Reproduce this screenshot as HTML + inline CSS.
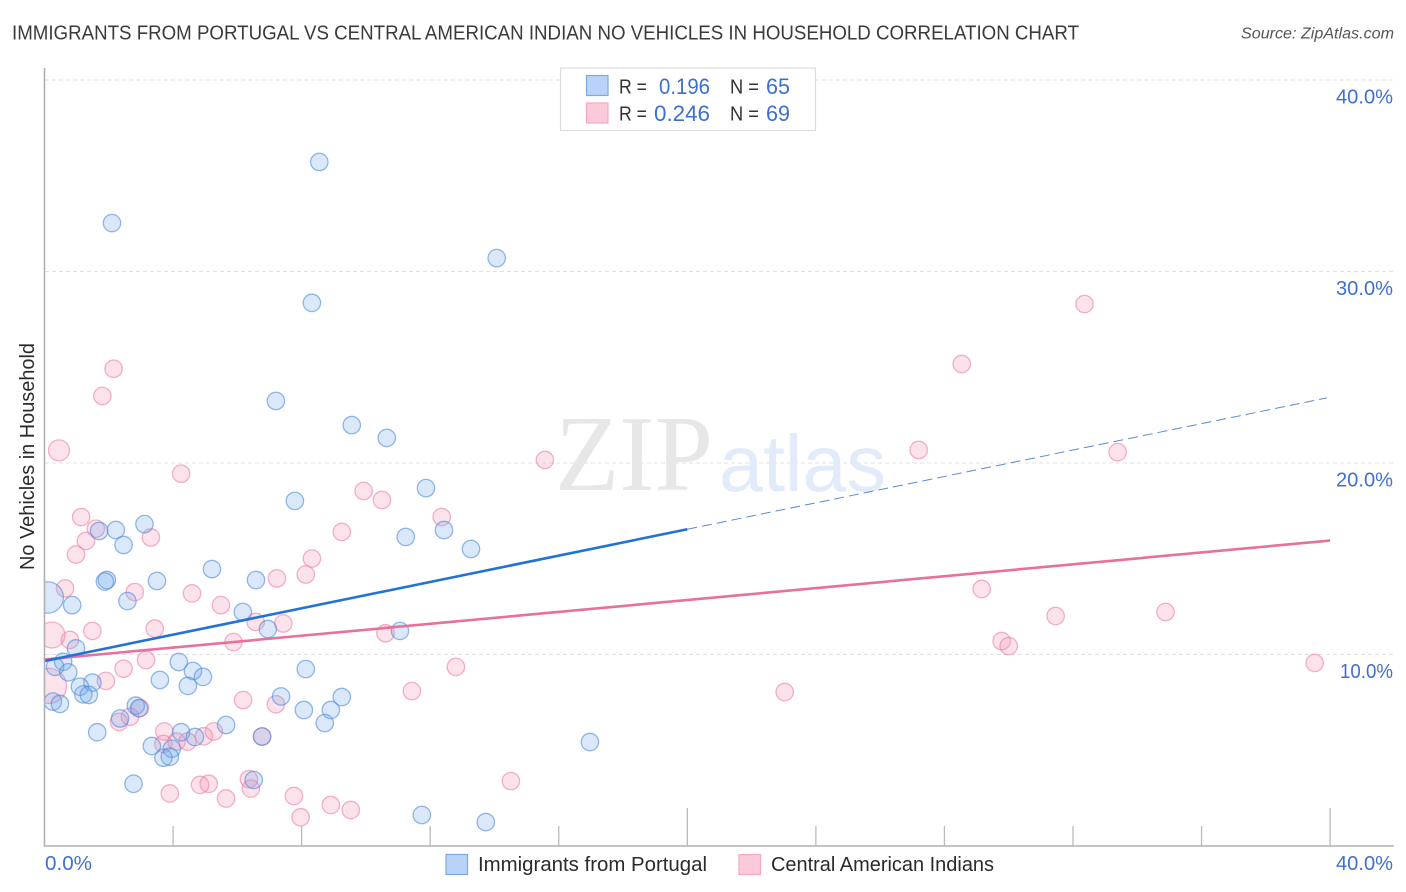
<!DOCTYPE html>
<html lang="en">
<head>
<meta charset="utf-8">
<title>Immigrants from Portugal vs Central American Indian No Vehicles in Household Correlation Chart</title>
<style>
html,body{margin:0;padding:0;background:#fff;width:1406px;height:892px;overflow:hidden}
svg{display:block}
text{font-family:"Liberation Sans",sans-serif}
</style>
</head>
<body>
<svg id="chart" width="1406" height="892" viewBox="0 0 1406 892" xmlns="http://www.w3.org/2000/svg">
  <defs>
    <clipPath id="plot-clip"><rect x="45" y="60" width="1349" height="786"/></clipPath>
  </defs>
  <rect x="0" y="0" width="1406" height="892" fill="#fff"/>
  <text x="12" y="39.5" font-size="20" fill="#3a3a3a" textLength="1067" lengthAdjust="spacingAndGlyphs">IMMIGRANTS FROM PORTUGAL VS CENTRAL AMERICAN INDIAN NO VEHICLES IN HOUSEHOLD CORRELATION CHART</text>
  <text x="1241" y="38.5" font-size="15.5" font-style="italic" fill="#555" textLength="153" lengthAdjust="spacingAndGlyphs">Source: ZipAtlas.com</text>
  <g id="grid"></g>
  <text x="555" y="490" font-size="108" fill="#e7e7e7" style="font-family:'Liberation Serif',serif" textLength="158" lengthAdjust="spacingAndGlyphs">ZIP</text>
  <text x="719" y="491" font-size="80" fill="#e2ebf9" textLength="167" lengthAdjust="spacingAndGlyphs">atlas</text>
  <g id="points-pink" clip-path="url(#plot-clip)"></g>
  <g id="points-blue" clip-path="url(#plot-clip)"></g>
  <g id="trends" clip-path="url(#plot-clip)"></g>
  <g id="axes"></g>
  <text transform="translate(34,456.5) rotate(-90)" text-anchor="middle" font-size="20" fill="#2a2a2a" textLength="227" lengthAdjust="spacingAndGlyphs">No Vehicles in Household</text>
  <g>
    <rect x="560.5" y="68" width="255" height="62.5" fill="#fff" stroke="#ddd" stroke-width="1.2"/>
    <rect x="586.5" y="75.5" width="21.5" height="20" fill="#b8d3f7" stroke="#7fa8de" stroke-width="1.2"/>
    <rect x="586.5" y="103" width="21.5" height="20" fill="#fcc9da" stroke="#f5a9c1" stroke-width="1.2"/>
    <text x="619" y="93.5" font-size="20" fill="#333" textLength="28" lengthAdjust="spacingAndGlyphs">R =</text>
    <text x="659" y="94" font-size="22" fill="#3c70d0" textLength="51" lengthAdjust="spacingAndGlyphs">0.196</text>
    <text x="730" y="93.5" font-size="20" fill="#333" textLength="29" lengthAdjust="spacingAndGlyphs">N =</text>
    <text x="766" y="94" font-size="22" fill="#3c70d0" textLength="24" lengthAdjust="spacingAndGlyphs">65</text>
    <text x="619" y="120.5" font-size="20" fill="#333" textLength="28" lengthAdjust="spacingAndGlyphs">R =</text>
    <text x="654" y="121" font-size="22" fill="#3c70d0" textLength="56" lengthAdjust="spacingAndGlyphs">0.246</text>
    <text x="730" y="120.5" font-size="20" fill="#333" textLength="29" lengthAdjust="spacingAndGlyphs">N =</text>
    <text x="766" y="121" font-size="22" fill="#3c70d0" textLength="24" lengthAdjust="spacingAndGlyphs">69</text>
  </g>
  <g>
    <rect x="446" y="854.5" width="21.5" height="20" fill="#b8d3f7" stroke="#7fa8de" stroke-width="1.2"/>
    <text x="478" y="871" font-size="20" fill="#2a2a2a" textLength="229" lengthAdjust="spacingAndGlyphs">Immigrants from Portugal</text>
    <rect x="739" y="854.5" width="21.5" height="20" fill="#fcc9da" stroke="#f5a9c1" stroke-width="1.2"/>
    <text x="771" y="871" font-size="20" fill="#2a2a2a" textLength="223" lengthAdjust="spacingAndGlyphs">Central American Indians</text>
  </g>
</svg>
<script>
const portugalX = [8.55,2.10,14.07,8.32,7.20,9.56,10.65,11.87,7.79,3.11,2.22,1.70,12.43,11.24,2.46,13.27,5.21,1.94,1.88,3.50,6.58,2.58,0.86,0.10,6.17,6.95,11.06,0.98,0.58,0.33,0.74,4.18,4.62,8.13,4.93,3.59,4.46,1.49,1.10,1.21,1.38,7.36,9.25,8.07,8.91,0.26,0.48,2.84,2.94,2.35,5.65,8.72,1.64,4.25,3.34,4.68,6.77,3.96,3.70,3.90,16.97,6.51,2.77,11.74,13.73];
const portugalY = [35.72,32.53,30.70,28.36,23.24,21.98,21.31,18.69,18.02,16.81,16.50,16.45,16.50,16.14,15.72,15.51,14.46,13.89,13.81,13.84,13.89,12.79,12.58,12.98,12.22,11.33,11.23,10.32,9.62,9.36,9.07,9.61,9.14,9.24,8.83,8.67,8.36,8.53,8.32,7.92,7.89,7.81,7.78,7.10,7.10,7.54,7.42,7.33,7.19,6.66,6.32,6.42,5.94,5.94,5.22,5.69,5.72,5.08,4.61,4.66,5.43,3.45,3.25,1.62,1.25];
const portugalWeight = [1,1,1,1,1,1,1,1,1,1,1,1,1,1,1,1,1,1,1,1,1,1,1,3.26,1,1,1,1,1,1,1,1,1,1,1,1,1,1,1,1,1,1,1,1,1,1,1,1,1,1,1,1,1,1,1,1,1,1,1,1,1,1,1,1,1];
const centralX = [2.15,1.80,0.45,4.25,1.14,1.60,1.29,0.98,3.31,0.64,2.81,4.59,5.49,9.93,10.50,9.25,12.36,8.32,8.13,7.23,6.57,7.43,5.88,10.61,3.43,1.49,0.79,3.16,2.46,1.91,6.18,7.20,2.66,2.97,2.32,3.73,3.70,4.11,4.45,4.96,5.27,6.77,3.90,4.84,5.11,5.65,6.36,6.42,7.76,7.97,8.91,9.53,14.51,32.36,28.54,27.20,33.39,15.57,29.16,34.88,31.46,29.78,30.00,39.52,23.03,12.80,11.43,0.23,0.14];
const centralY = [24.92,23.50,20.66,19.44,17.18,16.57,15.93,15.22,16.11,13.45,13.26,13.19,12.58,18.54,18.07,16.40,17.18,15.01,14.18,13.97,11.70,11.62,10.65,11.11,11.35,11.23,10.76,9.71,9.26,8.62,7.62,7.40,6.75,7.21,6.48,5.98,5.33,5.45,5.45,5.73,5.98,5.71,2.74,3.19,3.25,2.48,3.49,3.00,2.61,1.50,2.14,1.88,3.39,28.30,25.17,20.68,20.57,20.16,13.42,12.22,12.01,10.70,10.44,9.56,8.04,9.35,8.09,11.02,8.36];
const centralWeight = [1,1,1.46,1,1,1,1,1,1,1,1,1,1,1,1,1,1,1,1,1,1,1,1,1,1,1,1,1,1,1,1,1,1,1,1,1,1,1,1,1,1,1,1,1,1,1,1,1,1,1,1,1,1,1,1,1,1,1,1,1,1,1,1,1,1,1,1,2.23,4.05];
const portugalTrendX = [0, 20, 39.9];
const portugalTrendY = [9.66, 16.54, 23.4];
const centralTrendX = [0, 40];
const centralTrendY = [9.74, 15.95];
const xTickValues = [4,8,12,16,20,24,28,32,36,40];
const xMajorTicks = [20,40];
const yTickValues = [10,20,30,40];
const yTickLabels = ['10.0%','20.0%','30.0%','40.0%'];
const xEdgeValues = [0,40];
const xEdgeLabels = ['0.0%','40.0%'];

const SVG_NS = 'http://www.w3.org/2000/svg';
function xScale(v){ return 44.5 + v * 32.14; }
function yScale(v){ return 846 - v * 19.15; }
function rScale(w){ return 8.7 * Math.sqrt(w); }
function make(tag, attrs){
  const el = document.createElementNS(SVG_NS, tag);
  for (const k in attrs) el.setAttribute(k, attrs[k]);
  return el;
}

const grid = document.getElementById('grid');
yTickValues.forEach(function(v){
  const y = yScale(v);
  const line = make('line', {x1:45, x2:1394, y1:y, y2:y, stroke:'#e0e0e0', 'stroke-width':1, 'stroke-dasharray':'4 3'});
  
  
  grid.appendChild(line);
});

function drawPoints(groupId, xs, ys, ws, fill, stroke){
  const g = document.getElementById(groupId);
  xs.forEach(function(v, i){
    const c = make('circle', {cx:xScale(v), cy:yScale(ys[i]), r:rScale(ws[i]), fill:fill, 'fill-opacity':0.26, stroke:stroke, 'stroke-opacity':0.6, 'stroke-width':1.3});
    
    
    g.appendChild(c);
  });
}
drawPoints('points-pink', centralX, centralY, centralWeight, '#f58fb0', '#ec7fa3');
drawPoints('points-blue', portugalX, portugalY, portugalWeight, '#6fa6ec', '#4f8ada');

const trends = document.getElementById('trends');
const centralTrend = make('line', {x1:xScale(centralTrendX[0]), y1:yScale(centralTrendY[0]), x2:xScale(centralTrendX[1]), y2:yScale(centralTrendY[1]), stroke:'#e8709c', 'stroke-width':2.6});


trends.appendChild(centralTrend);
const portugalSolid = make('line', {x1:xScale(portugalTrendX[0]), y1:yScale(portugalTrendY[0]), x2:xScale(portugalTrendX[1]), y2:yScale(portugalTrendY[1]), stroke:'#2272d8', 'stroke-width':2.6});


trends.appendChild(portugalSolid);
const portugalDash = make('line', {x1:xScale(portugalTrendX[1]), y1:yScale(portugalTrendY[1]), x2:xScale(portugalTrendX[2]), y2:yScale(portugalTrendY[2]), stroke:'#5a8ccc', 'stroke-width':1, 'stroke-dasharray':'10 5'});


trends.appendChild(portugalDash);

const axes = document.getElementById('axes');
const yAxisLine = make('line', {x1:44.5, x2:44.5, y1:68, y2:846.5, stroke:'#b0b0b0', 'stroke-width':1.6});


axes.appendChild(yAxisLine);
const xAxisLine = make('line', {x1:44, x2:1394, y1:846, y2:846, stroke:'#b0b0b0', 'stroke-width':1.6});


axes.appendChild(xAxisLine);
xTickValues.forEach(function(v){
  const x = xScale(v);
  const top = xMajorTicks.indexOf(v) >= 0 ? 808 : 826;
  const t = make('line', {x1:x, x2:x, y1:top, y2:846, stroke:'#bbb', 'stroke-width':1.3});
  
  
  axes.appendChild(t);
});
yTickValues.forEach(function(v, i){
  const len = yTickLabels[i].charAt(0) === '1' ? 53 : 57;
  const label = make('text', {x:1393 - len, y:yScale(v) + 23.5, 'font-size':20, fill:'#3f70d0', textLength:len, lengthAdjust:'spacingAndGlyphs'});
  label.textContent = yTickLabels[i];
  
  
  axes.appendChild(label);
});
xEdgeValues.forEach(function(v, i){
  const start = i === 0 ? 45 : 1336;
  const len = i === 0 ? 47 : 57;
  const label = make('text', {x:start, y:870, 'font-size':20, fill:'#3f70d0', textLength:len, lengthAdjust:'spacingAndGlyphs'});
  label.textContent = xEdgeLabels[i];
  
  
  axes.appendChild(label);
});
</script>
</body>
</html>
